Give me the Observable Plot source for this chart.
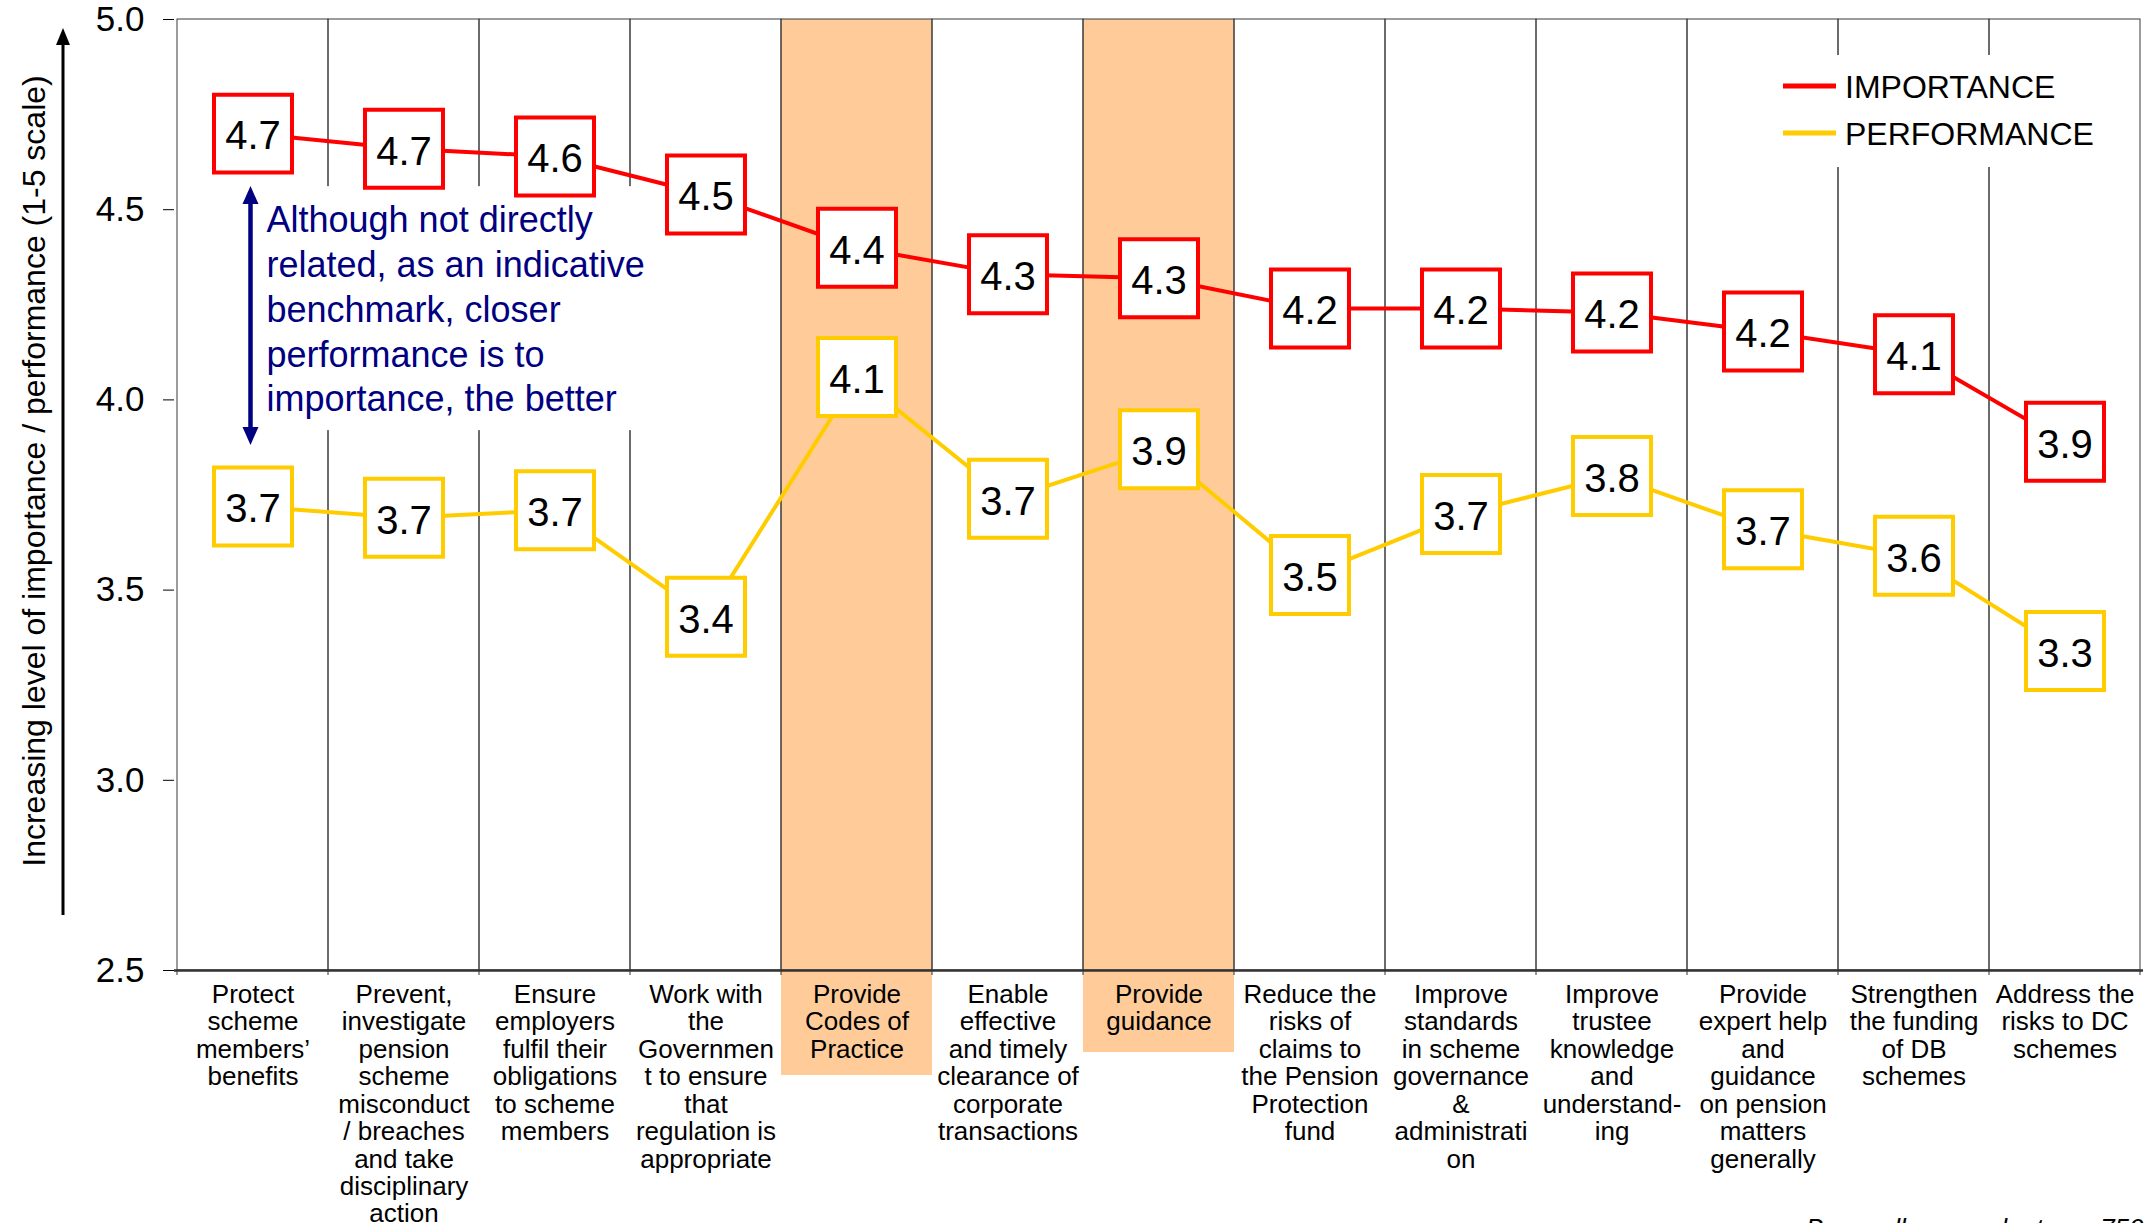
<!DOCTYPE html>
<html>
<head>
<meta charset="utf-8">
<script src="https://cdn.jsdelivr.net/npm/d3@7"></script>
<script src="https://cdn.jsdelivr.net/npm/@observablehq/plot@0.6"></script>
<style>
  html, body { margin: 0; padding: 0; background: #fff; }
  #chart { width: 2148px; height: 1223px; overflow: hidden; }
</style>
</head>
<body>
<div id="chart"></div>
<script>
// Roles of the regulator, rated for importance and performance (1-5 scale)
const categories = [
  "Protect\nscheme\nmembers’\nbenefits",
  "Prevent,\ninvestigate\npension\nscheme\nmisconduct\n/ breaches\nand take\ndisciplinary\naction",
  "Ensure\nemployers\nfulfil their\nobligations\nto scheme\nmembers",
  "Work with\nthe\nGovernmen\nt to ensure\nthat\nregulation is\nappropriate",
  "Provide\nCodes of\nPractice",
  "Enable\neffective\nand timely\nclearance of\ncorporate\ntransactions",
  "Provide\nguidance",
  "Reduce the\nrisks of\nclaims to\nthe Pension\nProtection\nfund",
  "Improve\nstandards\nin scheme\ngovernance\n&\nadministrati\non",
  "Improve\ntrustee\nknowledge\nand\nunderstand-\ning",
  "Provide\nexpert help\nand\nguidance\non pension\nmatters\ngenerally",
  "Strengthen\nthe funding\nof DB\nschemes",
  "Address the\nrisks to DC\nschemes"
];
const importance  = [4.70, 4.66, 4.64, 4.54, 4.40, 4.33, 4.32, 4.24, 4.24, 4.23, 4.18, 4.12, 3.89];
const performance = [3.72, 3.69, 3.71, 3.43, 4.06, 3.74, 3.87, 3.54, 3.70, 3.80, 3.66, 3.59, 3.34];
const highlighted = [4, 6]; // "Provide Codes of Practice", "Provide guidance"
const yDomain = [2.5, 5];
const yTicks = [2.5, 3.0, 3.5, 4.0, 4.5, 5.0];
const seriesNames = ["IMPORTANCE", "PERFORMANCE"];
const noteLines = [
  "Although not directly",
  "related, as an indicative",
  "benchmark, closer",
  "performance is to",
  "importance, the better"
];
const yTitle = "Increasing level of importance / performance (1-5 scale)";
const baseNote = "Base: all respondents, n=750";

const RED = "#FF0000", YELLOW = "#FFCC00", NAVY = "#000080", PEACH = "#FFCC99";
const FONT = "'Liberation Sans', Arial, Helvetica, sans-serif";
const fmt = d3.format(".1f");

const impRows = categories.map((c, i) => ({cat: c, v: importance[i]}));
const perfRows = categories.map((c, i) => ({cat: c, v: performance[i]}));

// how far each shaded column runs down behind its multi-line label
const shadeDepth = c => 36 + 23 * c.split("\n").length;

const chart = Plot.plot({
  width: 2148,
  height: 1223,
  marginTop: 19,
  marginRight: 5,
  marginBottom: 253,
  marginLeft: 174,
  style: {fontFamily: FONT, fontSize: "35px", background: "white", color: "black"},
  x: {type: "band", domain: categories, padding: 0, axis: null},
  y: {domain: yDomain, ticks: yTicks, tickFormat: ".1f", tickSize: 11, tickPadding: 19, label: null},
  marks: [
    // shaded columns, extended below the frame behind their labels
    ...highlighted.map(i => Plot.barY([categories[i]], {
      x: d => d, y1: yDomain[0], y2: yDomain[1], fill: PEACH,
      insetBottom: -shadeDepth(categories[i])
    })),
    // column dividers and frame
    Plot.barY(categories, {
      x: d => d, y1: yDomain[0], y2: yDomain[1],
      fill: "none", stroke: "#3a3a3a", strokeWidth: 1
    }),
    Plot.ruleY([yDomain[0]], {stroke: "#333", strokeWidth: 2.5}),
    // category labels
    Plot.text(categories, {
      x: d => d, text: d => d, frameAnchor: "bottom", lineAnchor: "top",
      dy: 13, fontSize: 26, lineHeight: 1.055, fill: "black"
    }),
    // series lines
    Plot.line(impRows, {x: "cat", y: "v", stroke: RED, strokeWidth: 4}),
    Plot.line(perfRows, {x: "cat", y: "v", stroke: YELLOW, strokeWidth: 4}),
    // value boxes
    Plot.dot(impRows, {x: "cat", y: "v", symbol: "square", r: 44, fill: "white", stroke: RED, strokeWidth: 4}),
    Plot.dot(perfRows, {x: "cat", y: "v", symbol: "square", r: 44, fill: "white", stroke: YELLOW, strokeWidth: 4}),
    Plot.text(impRows, {x: "cat", y: "v", text: d => fmt(d.v), fontSize: 40, dy: 3, fill: "black"}),
    Plot.text(perfRows, {x: "cat", y: "v", text: d => fmt(d.v), fontSize: 40, dy: 3, fill: "black"})
  ]
});

document.getElementById("chart").appendChild(chart);

const xs = chart.scale("x");
const ys = chart.scale("y");
const svg = d3.select(chart);
const bw = xs.bandwidth;
const yBottom = ys.apply(yDomain[0]);

// small ticks below the category axis at each column edge
const edges = categories.map(c => xs.apply(c)).concat([xs.apply(categories[categories.length - 1]) + bw]);
svg.append("g")
  .selectAll("line").data(edges).join("line")
  .attr("x1", d => d).attr("x2", d => d)
  .attr("y1", yBottom).attr("y2", yBottom + 5)
  .attr("stroke", "#333").attr("stroke-width", 1);

// y title with its upward arrow
const ty = svg.append("g");
ty.append("text")
  .attr("transform", "translate(45,471) rotate(-90)")
  .attr("text-anchor", "middle")
  .attr("font-family", FONT).attr("font-size", 32).attr("fill", "black")
  .text(yTitle);
ty.append("line")
  .attr("x1", 63).attr("x2", 63).attr("y1", 915).attr("y2", 42)
  .attr("stroke", "black").attr("stroke-width", 3);
ty.append("path")
  .attr("d", "M63,28 L70,45 L56,45 Z")
  .attr("fill", "black");

// white panels for the note and the legend sit above the dividers, below the data lines
const before = chart.querySelector('g[aria-label="line"]');
const panels = svg.insert("g", () => before);

// note with a double-headed arrow spanning the first column's gap
const ax = xs.apply(categories[0]) + bw / 2 - 2;
const aTop = ys.apply(importance[0]) + 53;
const aBot = ys.apply(performance[0]) - 61;
panels.append("rect")
  .attr("x", ax + 10).attr("y", aTop).attr("width", 660 - (ax + 10)).attr("height", 244)
  .attr("fill", "white");
panels.append("line")
  .attr("x1", ax).attr("x2", ax).attr("y1", aTop + 14).attr("y2", aBot - 14)
  .attr("stroke", NAVY).attr("stroke-width", 4.5);
panels.append("path")
  .attr("d", `M${ax},${aTop} L${ax + 8},${aTop + 18} L${ax - 8},${aTop + 18} Z`)
  .attr("fill", NAVY);
panels.append("path")
  .attr("d", `M${ax},${aBot} L${ax + 8},${aBot - 18} L${ax - 8},${aBot - 18} Z`)
  .attr("fill", NAVY);
const note = panels.append("text")
  .attr("text-anchor", "start")
  .attr("font-family", FONT).attr("font-size", 36).attr("fill", NAVY);
note.selectAll("tspan").data(noteLines).join("tspan")
  .attr("x", ax + 16)
  .attr("y", (d, i) => aTop + 46 + i * 44.8)
  .text(d => d);

// legend
const lg = panels.append("g").attr("text-anchor", "start");
lg.append("rect").attr("x", 1770).attr("y", 55).attr("width", 330).attr("height", 112).attr("fill", "white");
[[seriesNames[0], RED, 86], [seriesNames[1], YELLOW, 133]].forEach(([name, color, y]) => {
  lg.append("line").attr("x1", 1783).attr("x2", 1836).attr("y1", y).attr("y2", y)
    .attr("stroke", color).attr("stroke-width", 5);
  lg.append("text").attr("x", 1845).attr("y", y).attr("dy", "0.36em")
    .attr("font-family", FONT).attr("font-size", 32).attr("fill", "black")
    .text(name);
});

// sample base note along the bottom edge
svg.append("text")
  .attr("x", 1806).attr("y", 1237)
  .attr("text-anchor", "start")
  .attr("font-family", FONT).attr("font-size", 26).attr("font-style", "italic").attr("fill", "black")
  .text(baseNote);
</script>
</body>
</html>
